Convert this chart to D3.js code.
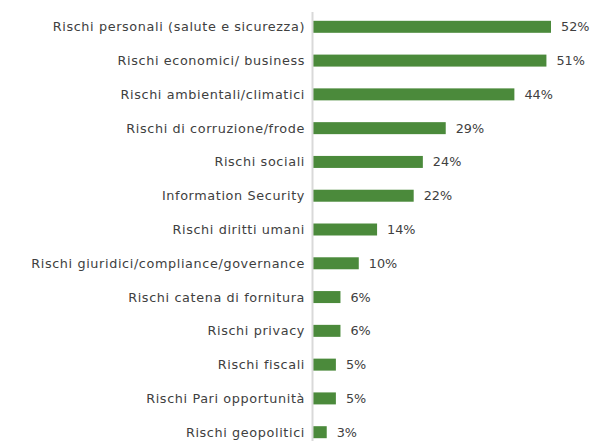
<!DOCTYPE html>
<html><head><meta charset="utf-8">
<script src="https://cdn.jsdelivr.net/npm/d3@7"></script>
<style>body{margin:0;background:#fff}</style>
</head><body><div id="chart"></div>
<script>
const categories = ["Rischi personali (salute e sicurezza)","Rischi economici/ business","Rischi ambientali/climatici","Rischi di corruzione/frode","Rischi sociali","Information Security","Rischi diritti umani","Rischi giuridici/compliance/governance","Rischi catena di fornitura","Rischi privacy","Rischi fiscali","Rischi Pari opportunità","Rischi geopolitici"];
const values = [52,51,44,29,24,22,14,10,6,6,5,5,3];

const W=590,H=441;
const x0=313;
const svg=d3.select("#chart").append("svg").attr("width",W).attr("height",H);
const x=d3.scaleLinear().domain([0,52]).range([x0,551]);
const y=d3.scaleBand().domain(categories).range([10,449]).paddingInner(0.645).paddingOuter(0.32);
const font="'DejaVu Sans', sans-serif";

svg.selectAll("rect.bar").data(categories).join("rect").attr("class","bar")
 .attr("x",x(0)).attr("y",d=>y(d)).attr("height",y.bandwidth())
 .attr("width",(d,i)=>x(values[i])-x(0)).attr("fill","#4b8a3b");

svg.append("line").attr("x1",x0-0.5).attr("x2",x0-0.5).attr("y1",12).attr("y2",H)
 .attr("stroke","#d9d9d9").attr("stroke-width",2);

svg.selectAll("text.cat").data(categories).join("text").attr("class","cat")
 .attr("x",305).attr("y",d=>y(d)+y.bandwidth()/2).attr("dy","0.35em")
 .attr("text-anchor","end").attr("font-family",font).attr("font-size",12.8)
 .attr("letter-spacing",0.62)
 .attr("fill","#404040").text(d=>d);

svg.selectAll("text.val").data(categories).join("text").attr("class","val")
 .attr("x",(d,i)=>x(values[i])+10).attr("y",d=>y(d)+y.bandwidth()/2).attr("dy","0.35em")
 .attr("font-family",font).attr("font-size",12.8).attr("fill","#404040")
 .text((d,i)=>values[i]+"%");
</script></body></html>
